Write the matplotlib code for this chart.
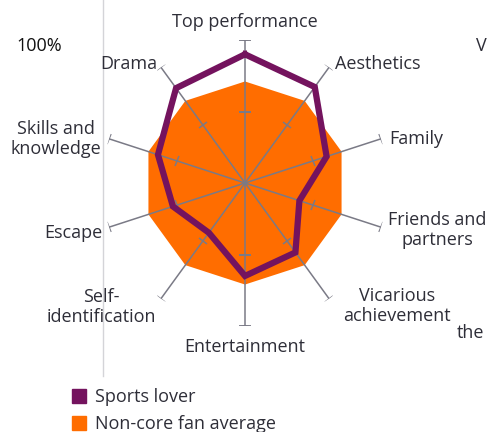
import numpy as np
import matplotlib
matplotlib.use("Agg")
import matplotlib.pyplot as plt
from matplotlib.markers import MarkerStyle
from matplotlib.transforms import Affine2D
from matplotlib.patches import Patch

categories = ["Top performance", "Aesthetics", "Family", "Friends and\npartners",
              "Vicarious\nachievement", "Entertainment", "Self-\nidentification",
              "Escape", "Skills and\nknowledge", "Drama"]
sports_lover = [0.90, 0.83, 0.60, 0.40, 0.60, 0.65, 0.43, 0.53, 0.64, 0.82]
non_core_avg = [0.71, 0.71, 0.71, 0.71, 0.71, 0.71, 0.71, 0.71, 0.71, 0.71]
axis_ticks = [0.5, 1.0]
series_names = ["Sports lover", "Non-core fan average"]

PURPLE = "#74135E"
ORANGE = "#FF6D00"
GREY = "#7A7A86"
TXT = "#2E2E38"
FONT = "Open Sans"
FS = 13

W, H = 488, 432
fig = plt.figure(figsize=(W / 100, H / 100), dpi=100)

cx, cy, R = 245, 183, 143
ax = fig.add_axes([(cx - R) / W, (H - cy - R) / H, 2 * R / W, 2 * R / H], projection="polar")
ax.set_theta_zero_location("N")
ax.set_theta_direction(-1)
ax.set_ylim(0, 1)
ax.grid(False)
ax.spines["polar"].set_visible(False)
ax.set_xticks([])
ax.set_yticks([])
ax.patch.set_alpha(0)

n = len(categories)
theta = np.arange(n) * 2 * np.pi / n
tc = np.append(theta, theta[0])

ax.fill(tc, np.append(non_core_avg, non_core_avg[0]), color=ORANGE, lw=0, zorder=1)

for i, t in enumerate(theta):
    ax.plot([t, t], [0, 1.0], color=GREY, lw=1.1, zorder=2, solid_capstyle="butt")
    ang = 90 - np.degrees(t)
    m = MarkerStyle("|", transform=Affine2D().rotate_deg(ang))
    ax.plot([t] * len(axis_ticks), axis_ticks, ls="none", marker=m, ms=8,
            mec=GREY, mew=1.1, zorder=2)

ax.plot(tc, np.append(sports_lover, sports_lover[0]), color=PURPLE, lw=4.5,
        zorder=3, solid_joinstyle="miter")

# category labels (pixel positions: x, y, ha)
label_pos = [(245, 22, "center"), (335, 64, "left"), (389, 139, "left"),
             (437, 230, "center"), (397, 306, "center"), (245, 347, "center"),
             (101, 307, "center"), (102, 233, "right"), (101, 139, "right"),
             (157, 64, "right")]
for lab, (x, y, ha) in zip(categories, label_pos):
    fig.text(x / W, 1 - y / H, lab, ha=ha, va="center", fontsize=FS,
             family=FONT, color=TXT, linespacing=1.2, multialignment="center")

# surrounding page fragments
fig.text(16 / W, 1 - 46 / H, "100%", ha="left", va="center", fontsize=FS,
         family=FONT, color="#111111")
fig.text(487 / W, 1 - 46 / H, "V", ha="right", va="center", fontsize=FS,
         family=FONT, color=TXT)
fig.text(484 / W, 1 - 333 / H, "the", ha="right", va="center", fontsize=FS,
         family=FONT, color=TXT)
fig.add_artist(plt.Line2D([103 / W, 103 / W], [1 - 376 / H, 1.0],
                          transform=fig.transFigure, color="#D4D4D8", lw=1))

handles = [Patch(color=PURPLE), Patch(color=ORANGE)]
leg = fig.legend(handles, series_names, loc="upper left",
                 bbox_to_anchor=(72 / W, 1 - 388 / H), frameon=False,
                 handlelength=0.8, handleheight=0.8, handletextpad=0.5,
                 labelspacing=0.5, borderpad=0, borderaxespad=0,
                 prop={"family": FONT, "size": FS})
for t in leg.get_texts():
    t.set_color(TXT)

fig.savefig("out.png", dpi=100)
